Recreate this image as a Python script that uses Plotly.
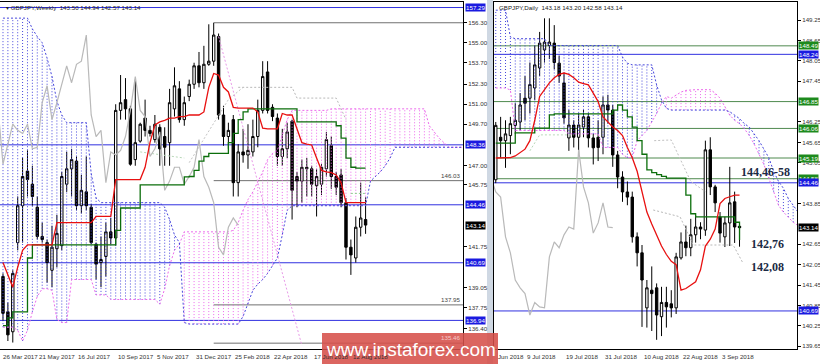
import numpy as np
import plotly.graph_objects as go

# ====================== WEEKLY PANEL (left) ======================
w_open = [139.8, 137.5, 136.2, 142.0, 144.4, 146.65, 145.8, 144.3, 142.4, 142.0,
          140.2, 141.6, 141.8, 145.8, 146.8, 147.3, 144.4, 145.3, 144.3, 141.9,
          140.7, 141.1, 142.7, 142.3, 150.6, 151.3, 150.7, 147.4, 148.6, 150.1,
          149.3, 148.7, 149.5, 148.9, 148.5, 150.7, 152.0, 150.0, 151.5, 152.3,
          153.5, 152.4, 153.6, 153.8, 155.4, 150.3, 148.9, 150.0, 145.9, 147.9,
          147.7, 147.9, 148.9, 150.6, 153.1, 150.8, 150.1, 147.6, 148.1, 149.9,
          146.3, 146.0, 146.8, 146.8, 145.7, 145.8, 146.8, 148.3, 146.3, 146.4,
          144.6, 141.7, 141.0, 143.0, 143.50]
w_high = [140.0, 138.1, 140.2, 145.0, 147.5, 148.0, 147.0, 145.0, 143.3, 142.2,
          143.1, 143.8, 146.6, 147.9, 148.1, 147.6, 146.4, 147.6, 144.5, 142.0,
          142.4, 143.3, 143.6, 151.0, 152.9, 152.7, 150.9, 152.6, 149.8, 151.3,
          149.6, 150.3, 149.7, 149.5, 152.0, 153.4, 152.5, 151.5, 152.6, 153.7,
          154.4, 154.8, 156.2, 156.3, 155.6, 150.9, 149.8, 150.3, 148.4, 149.4,
          149.7, 150.0, 151.3, 153.8, 153.8, 151.0, 150.4, 149.4, 149.8, 150.0,
          146.6, 147.4, 147.5, 147.0, 146.8, 147.1, 149.2, 148.9, 146.6, 146.8,
          144.9, 142.2, 143.7, 145.9, 144.94]
w_low = [136.9, 135.6, 135.5, 141.5, 142.0, 145.0, 144.4, 142.2, 142.0, 139.4,
         139.1, 140.4, 141.5, 145.3, 145.0, 144.1, 143.9, 144.1, 141.9, 139.6,
         139.1, 139.8, 141.9, 141.8, 150.0, 150.0, 147.0, 147.0, 148.5, 148.9,
         148.9, 148.5, 147.0, 147.0, 147.0, 150.2, 149.8, 149.6, 151.2, 152.0,
         152.1, 152.0, 153.5, 153.5, 150.0, 148.3, 148.1, 145.0, 145.0, 147.2,
         146.8, 147.6, 148.2, 150.4, 150.4, 149.9, 147.0, 147.0, 147.5, 143.5,
         144.3, 144.6, 145.0, 145.0, 143.7, 145.1, 146.3, 145.5, 145.1, 144.3,
         140.9, 139.9, 140.7, 142.4, 142.57]
w_close = [137.4, 136.0, 140.0, 144.4, 146.3, 146.1, 145.0, 142.4, 142.2, 140.7,
           141.7, 142.6, 146.3, 146.8, 147.4, 144.4, 145.4, 144.4, 142.0, 140.6,
           140.9, 142.7, 142.3, 150.6, 151.1, 150.7, 147.1, 148.5, 149.7, 149.3,
           149.1, 149.7, 148.1, 148.2, 151.1, 152.2, 150.0, 151.1, 152.3, 153.5,
           152.4, 153.6, 153.8, 155.5, 150.3, 148.9, 149.3, 145.9, 147.9, 147.7,
           148.0, 148.9, 150.6, 152.8, 150.6, 150.2, 147.6, 148.1, 149.2, 145.4,
           146.0, 146.9, 146.9, 145.8, 146.3, 146.9, 148.7, 146.3, 145.6, 144.6,
           141.7, 141.2, 143.0, 143.6, 143.14]
w_tenkan = [140.7, 139.9, 139.1, 140.4, 141.5, 141.85, 141.85, 141.85, 141.85, 141.85,
            141.85, 143.3, 143.3, 143.3, 143.3, 143.3, 143.3, 143.3, 143.3, 143.7,
            143.7, 143.7, 143.7, 146.1, 146.1, 146.1, 146.1, 146.1, 146.1, 146.9,
            148.5, 149.65, 149.85, 149.95, 150.1, 150.1, 150.2, 150.2, 150.3, 150.3,
            150.3, 150.5, 152.1, 153.0, 152.9, 152.1, 151.8, 150.8, 150.75, 150.75,
            150.75, 150.75, 150.5, 149.45, 149.4, 149.4, 149.4, 150.4, 150.3, 150.3,
            149.45, 148.5, 148.4, 148.35, 147.5, 146.7, 146.6, 146.55, 146.4, 145.9,
            144.6, 144.6, 144.6, 144.6, 144.6]
w_kijun = [136.6, 137.1, 137.5, 137.5, 137.5, 141.0, 141.85, 141.85, 141.85, 141.85,
           141.85, 141.85, 141.85, 141.85, 141.85, 141.85, 141.85, 141.85, 141.85, 141.85,
           141.85, 141.85, 141.85, 142.8, 144.25, 144.25, 144.25, 144.25, 145.75, 145.75,
           145.75, 145.75, 145.75, 145.75, 145.75, 145.75, 145.75, 146.27, 146.3, 146.7,
           147.3, 147.6, 147.8, 147.8, 147.8, 147.8, 148.5, 149.1, 150.0, 150.5,
           150.7, 150.7, 150.7, 150.7, 150.7, 150.7, 150.7, 150.7, 150.7, 150.7,
           149.85, 149.85, 149.85, 149.85, 149.85, 149.85, 149.85, 149.85, 149.6, 148.8,
           147.5, 146.9, 146.85, 146.85, 146.85]
w_span_a = [156.6, 156.6, 156.6, 156.6, 156.6, 156.6, 155.9, 155.4, 155.0, 154.0,
            152.8, 151.2, 150.3, 149.8, 149.8, 149.8, 149.8, 149.8, 146.5, 144.9,
            144.6, 144.6, 144.6, 144.6, 144.6, 144.6, 144.6, 144.6, 144.6, 144.6,
            144.6, 144.6, 144.6, 144.3, 143.5, 142.5, 142.0, 136.8, 136.7, 136.7,
            136.7, 136.7, 136.7, 136.7, 136.7, 136.7, 136.7, 136.7, 136.7, 137.2,
            138.0, 138.9, 139.3, 139.6, 140.0, 140.5, 141.0, 142.5, 144.1, 144.4,
            144.4, 144.4, 144.4, 144.4, 144.4, 144.4, 144.4, 144.4, 144.4, 144.4,
            144.4, 144.4, 144.4, 144.4, 144.4, 146.0, 146.3, 146.6, 147.0, 147.5,
            148.2, 148.2, 148.2, 148.2, 148.2, 148.2, 148.2, 148.2, 148.2, 148.2,
            148.2, 148.2, 148.2, 148.2, 148.2, 148.2]
w_span_b = [136.5, 136.5, 136.5, 136.3, 135.6, 136.3, 137.5, 138.5, 139.0, 139.0,
            138.9, 137.0, 136.8, 136.8, 139.6, 139.6, 139.6, 139.6, 139.6, 138.6,
            138.6, 138.6, 138.3, 138.3, 138.3, 138.3, 138.3, 138.3, 138.3, 138.3,
            138.3, 138.3, 138.0, 139.0, 140.5, 141.5, 141.9, 142.7, 142.7, 142.7,
            142.7, 142.7, 142.7, 142.7, 142.7, 142.7, 142.7, 142.8, 143.3, 144.1,
            144.8, 145.3, 145.9, 146.6, 147.4, 147.8, 148.0, 149.0, 150.0, 150.6,
            150.6, 150.6, 150.6, 150.6, 150.6, 150.6, 150.6, 150.7, 150.7, 150.7,
            150.7, 150.7, 150.7, 150.7, 150.7, 150.7, 150.7, 150.7, 150.7, 150.7,
            150.7, 150.7, 150.7, 150.7, 150.7, 150.7, 150.7, 149.6, 149.2, 148.8,
            148.5, 148.2, 148.2, 148.2, 148.2, 148.2]
w_label_idx = [-1, 7, 15, 23, 31, 39, 47, 55, 63, 71]
w_label_text = ["26 Mar 2017", "21 May 2017", "16 Jul 2017", "10 Sep 2017", "5 Nov 2017",
                "31 Dec 2017", "25 Feb 2018", "22 Apr 2018", "17 Jun 2018", "12 Aug 2018"]
w_price_ticks = [156.30, 155.00, 153.70, 152.30, 151.00, 149.70, 147.00, 145.75,
                 141.75, 139.05, 137.75, 136.40]
w_blue_levels = [157.29, 148.36, 144.46, 140.69, 136.94]
w_gray_levels = [156.30, 146.03, 137.95, 135.46]
w_gray_level_text = ["", "146.03", "137.95", "135.46"]
w_gray_start = 43
w_boxes = [(157.29, "blue"), (148.36, "blue"), (144.46, "blue"),
           (143.14, "black"), (140.69, "blue"), (136.94, "blue")]
w_trend_x = [44, 61]
w_trend_y = [155.4, 135.3]
w_faint1_x = [48, 59, 60, 68, 70]
w_faint1_y = [152.1, 152.1, 151.4, 151.4, 150.0]
w_faint2_x = [38, 46, 49]
w_faint2_y = [147.2, 151.3, 152.1]
w_faint3_x = [28, 37]
w_faint3_y = [147.9, 147.5]
w_faint4_x = [71, 74]
w_faint4_y = [145.2, 145.2]

# ====================== DAILY PANEL (right) ======================
d_first = -6
d_open = [144.55, 145.8, 145.7, 145.85, 146.15, 146.25, 146.95, 146.95, 147.25, 147.84,
          148.37, 148.5, 148.57, 147.98, 147.4, 145.78, 146.16, 145.8, 146.1, 146.4,
          145.78, 145.8, 145.8, 146.75, 146.6, 145.28, 144.63, 144.19, 144.04, 142.87,
          142.4, 140.78, 141.3, 141.37, 140.52, 140.94, 140.9, 140.78, 142.25, 142.72,
          142.55, 142.93, 143.16, 143.07, 145.43, 144.34, 143.45, 142.87, 143.28, 143.9,
          143.18]
d_high = [146.25, 146.4, 146.3, 146.4, 146.8, 147.1, 147.6, 148.0, 148.5, 148.9,
          149.3, 149.3, 149.1, 148.2, 147.7, 146.6, 146.3, 146.5, 146.6, 146.5,
          145.9, 146.3, 147.0, 147.05, 146.75, 145.4, 144.8, 144.5, 144.2, 143.0,
          142.63, 141.6, 142.0, 141.5, 141.4, 141.4, 141.3, 142.4, 143.0, 143.2,
          143.4, 143.5, 143.3, 145.7, 145.8, 144.4, 143.6, 143.46, 144.93, 144.2,
          143.20]
d_low = [144.45, 145.2, 144.9, 145.3, 145.9, 146.0, 146.3, 146.5, 146.9, 147.6,
         148.0, 148.1, 147.8, 147.4, 146.2, 145.4, 145.5, 145.3, 145.8, 145.5,
         145.0, 145.1, 145.3, 146.2, 144.93, 144.3, 143.9, 143.8, 142.7, 142.0,
         140.22, 140.2, 140.1, 139.84, 139.95, 140.2, 140.5, 140.6, 142.2, 142.3,
         142.3, 142.7, 142.8, 142.9, 144.1, 143.6, 142.7, 142.57, 142.6, 142.69,
         142.58]
d_close = [146.15, 145.7, 145.9, 146.2, 146.3, 146.75, 146.8, 147.35, 147.93, 148.57,
           148.6, 148.6, 148.0, 147.6, 146.37, 146.16, 145.8, 146.16, 146.4, 145.78,
           145.49, 145.5, 146.75, 146.6, 145.28, 144.63, 144.19, 144.04, 142.87, 142.4,
           141.6, 141.37, 141.2, 140.57, 140.94, 140.81, 140.78, 142.28, 142.72, 142.55,
           142.93, 143.16, 143.1, 145.43, 144.34, 143.87, 142.98, 143.28, 143.87, 143.16,
           143.14]
d_tenkan = [145.19, 145.19, 145.19, 145.2, 145.25, 145.35, 145.45, 145.7, 146.3, 147.0,
            147.2, 147.4, 147.55, 147.65, 147.69, 147.65, 147.55, 147.42, 147.38, 147.34,
            147.1, 146.85, 146.4, 146.25, 146.1, 146.0, 145.85, 145.5, 145.2, 144.8,
            144.2, 143.6, 143.25, 142.9, 142.6, 142.35, 142.15, 142.05, 141.3, 141.35,
            141.45, 141.55, 141.9, 142.6, 142.8, 143.1, 143.85, 144.0, 144.05, 144.1,
            144.1]
d_kijun = [145.63, 145.63, 145.63, 145.63, 145.93, 145.93, 145.93, 145.93, 146.07, 146.07,
           146.07, 146.46, 146.49, 146.49, 146.49, 146.49, 146.49, 146.49, 146.49, 146.49,
           146.49, 146.49, 146.49, 146.49, 146.6, 146.75, 146.6, 146.4, 146.1, 145.7,
           145.3, 144.84, 144.76, 144.7, 144.65, 144.6, 144.6, 144.6, 144.6, 144.1,
           143.55, 143.46, 143.46, 143.46, 143.46, 143.46, 143.46, 143.46, 143.46, 143.3,
           142.78]
d_span_a = [149.54, 149.54, 149.54, 148.75, 148.7, 148.7, 148.7, 148.7, 148.7, 148.7,
            148.7, 148.5, 148.5, 148.5, 148.5, 148.5, 148.5, 148.5, 148.5, 148.5,
            148.5, 148.5, 148.5, 148.5, 148.5, 148.5, 148.16, 147.98, 147.93, 147.93,
            147.93, 147.93, 147.93, 147.34, 146.9, 146.65, 146.6, 146.6, 146.6, 146.6,
            146.6, 146.6, 146.6, 146.6, 146.6, 146.6, 146.6, 146.6, 146.55, 146.45,
            146.35, 146.2, 146.1, 145.9, 145.7, 145.45, 145.2, 144.8, 144.5, 144.3,
            144.0, 143.8, 143.6]
d_span_b = [147.25, 147.25, 147.25, 147.19, 146.0, 146.0, 146.0, 146.0, 146.0, 146.0,
            146.0, 146.0, 146.0, 146.0, 146.0, 145.9, 145.9, 145.9, 145.9, 145.9,
            145.9, 145.9, 145.5, 145.5, 145.5, 145.5, 145.3, 145.2, 145.2, 145.7,
            145.85, 146.0, 146.25, 146.5, 146.8, 147.0, 146.95, 147.05, 147.13, 147.18,
            147.2, 147.2, 147.2, 147.2, 147.2, 147.1, 146.95, 146.7, 146.45, 146.3,
            146.2, 146.05, 145.85, 145.6, 145.3, 145.0, 144.6, 144.2, 143.8, 143.6,
            143.45, 143.3, 143.2]
d_label_idx = [0, 8, 16, 24, 32, 40]
d_label_text = ["9 Jul 2018", "19 Jul 2018", "31 Jul 2018", "10 Aug 2018",
                "22 Aug 2018", "3 Sep 2018"]
d_price_ticks = [149.25, 148.65, 148.05, 147.45, 146.25, 145.65, 145.05, 143.85,
                 142.65, 142.05, 141.45, 140.85, 140.25, 139.65]
d_blue_levels = [148.24, 144.46, 140.69]
d_green_levels = [148.49, 146.85, 146.06, 145.19, 144.58]
d_boxes = [(148.49, "green"), (148.24, "blue"), (146.85, "green"), (146.06, "green"),
           (145.19, "green"), (144.58, "green"), (144.46, "blue"), (143.14, "black"),
           (140.69, "blue")]
d_faint1_x = [26.5, 30, 34, 37]
d_faint1_y = [145.7, 145.72, 144.5, 144.2]
d_faint2_x = [26.3, 31.8, 34.5, 42.7, 44.7]
d_faint2_y = [143.66, 143.46, 142.63, 142.63, 142.1]
d_faint3_x = [1, 3, 10]
d_faint3_y = [145.4, 145.87, 145.87]
d_notes = [("144,46-58", 765, 172), ("142,76", 767, 244), ("142,08", 767, 267)]

# ====================== figure ======================
W, H = 820, 364
TOP, BOT = 2, 349
LABEL_Y = 356
BLUE_DOT = "#4646dc"
PINK_DOT = "#ec6aec"
BOX_COL = {"blue": "#1a1ae0", "black": "#000000", "green": "#1d8a1d"}
FONT = "Liberation Sans"
SMALL = 6.2

fig = go.Figure()


def cloud(xs, a, b, bullish):
    X, Y = [], []
    for x, ya, yb in zip(xs, a, b):
        if ya == yb:
            continue
        if (ya > yb) == bullish:
            X += [x, x, None]
            Y += [min(ya, yb), max(ya, yb), None]
    return X, Y


def add_panel(xa, ya, xs, o, h, l, c, tenkan, kijun, span_a, span_b, faint):
    sx = list(range(xs[0], xs[0] + len(span_a)))
    for bull, col in ((True, BLUE_DOT), (False, PINK_DOT)):
        X, Y = cloud(sx, span_a, span_b, bull)
        fig.add_trace(go.Scatter(x=X, y=Y, mode="lines", xaxis=xa, yaxis=ya,
                                 line=dict(color=col, width=1, dash="1px,2px"),
                                 hoverinfo="skip", connectgaps=False))
    fig.add_trace(go.Scatter(x=sx, y=span_b, mode="lines", xaxis=xa, yaxis=ya,
                             line=dict(color=PINK_DOT, width=1, dash="2px,2px"), hoverinfo="skip"))
    fig.add_trace(go.Scatter(x=sx, y=span_a, mode="lines", xaxis=xa, yaxis=ya,
                             line=dict(color=BLUE_DOT, width=1, dash="2px,2px"), hoverinfo="skip"))
    for fx, fy, fc in faint:
        fig.add_trace(go.Scatter(x=fx, y=fy, mode="lines", xaxis=xa, yaxis=ya,
                                 line=dict(color=fc, width=1, dash="2px,2px"), hoverinfo="skip"))
    # chikou: closes plotted 26 bars back
    fig.add_trace(go.Scatter(x=[v - 26 for v in xs], y=c, mode="lines", xaxis=xa, yaxis=ya,
                             line=dict(color="#b9b9b9", width=1.2), hoverinfo="skip"))
    fig.add_trace(go.Candlestick(x=xs, open=o, high=h, low=l, close=c, xaxis=xa, yaxis=ya,
                                 whiskerwidth=0,
                                 increasing=dict(line=dict(color="black", width=1), fillcolor="white"),
                                 decreasing=dict(line=dict(color="black", width=1), fillcolor="black"),
                                 hoverinfo="skip"))
    fig.add_trace(go.Scatter(x=xs, y=kijun, mode="lines", xaxis=xa, yaxis=ya,
                             line=dict(color="#0b6e0b", width=1.3, shape="hv"), hoverinfo="skip"))
    fig.add_trace(go.Scatter(x=xs, y=tenkan, mode="lines", xaxis=xa, yaxis=ya,
                             line=dict(color="#e81010", width=1.3), hoverinfo="skip"))


w_x = list(range(len(w_open)))
d_x = list(range(d_first, d_first + len(d_open)))

add_panel("x", "y", w_x, w_open, w_high, w_low, w_close, w_tenkan, w_kijun, w_span_a, w_span_b,
          [(w_trend_x, w_trend_y, "#e89ae8"), (w_faint1_x, w_faint1_y, "#b8b8b8"),
           (w_faint2_x, w_faint2_y, "#c4c4c4"), (w_faint3_x, w_faint3_y, "#b8d8b8"),
           (w_faint4_x, w_faint4_y, "#8fcf8f")])
add_panel("x2", "y2", d_x, d_open, d_high, d_low, d_close, d_tenkan, d_kijun, d_span_a, d_span_b,
          [(d_faint1_x, d_faint1_y, "#c0c0c0"), (d_faint2_x, d_faint2_y, "#b8b8b8"),
           (d_faint3_x, d_faint3_y, "#b8d8b8")])

shapes = []
for lv in w_blue_levels:
    shapes.append(dict(type="line", xref="x domain", yref="y", x0=0, x1=1, y0=lv, y1=lv,
                       line=dict(color="#3030e0", width=1), layer="below"))
for lv in w_gray_levels:
    shapes.append(dict(type="line", xref="x", yref="y", x0=w_gray_start, x1=200, y0=lv, y1=lv,
                       line=dict(color="#707070", width=1), layer="below"))
for lv in d_blue_levels:
    shapes.append(dict(type="line", xref="x2 domain", yref="y2", x0=0, x1=1, y0=lv, y1=lv,
                       line=dict(color="#3030e0", width=1), layer="below"))
for lv in d_green_levels:
    shapes.append(dict(type="line", xref="x2 domain", yref="y2", x0=0, x1=1, y0=lv, y1=lv,
                       line=dict(color="#4f8a4f", width=1), layer="below"))
# window separator
shapes.append(dict(type="rect", xref="paper", yref="paper", x0=487 / W, x1=493 / W, y0=0, y1=1,
                   fillcolor="#cfd8e3", line=dict(width=0), layer="below"))
# watermark box
shapes.append(dict(type="rect", xref="paper", yref="paper", x0=322 / W, x1=498 / W,
                   y0=0, y1=(H - 333) / H, fillcolor="rgba(214,80,74,0.88)",
                   line=dict(width=0), layer="above"))

ann = []
for lv, col in w_boxes:
    ann.append(dict(xref="paper", yref="y", x=465 / W, y=lv, xanchor="left", yanchor="middle",
                    text=f"{lv:.2f}", showarrow=False, bgcolor=BOX_COL[col], borderpad=0,
                    font=dict(family=FONT, size=SMALL, color="white")))
for lv, col in d_boxes:
    ann.append(dict(xref="paper", yref="y2", x=798 / W, y=lv, xanchor="left", yanchor="middle",
                    text=f"{lv:.2f}", showarrow=False, bgcolor=BOX_COL[col], borderpad=0,
                    font=dict(family=FONT, size=SMALL, color="white")))
for lv, t in zip(w_gray_levels, w_gray_level_text):
    if t:
        faint = lv < 136
        ann.append(dict(xref="paper", yref="y", x=462 / W, y=lv, xanchor="right", yanchor="bottom",
                        text=t, showarrow=False,
                        font=dict(family=FONT, size=SMALL,
                                  color="rgba(255,235,235,0.75)" if faint else "#444")))
# date labels (text starts at the bar it names, MT4 style)
for idx, t in zip(w_label_idx, w_label_text):
    ann.append(dict(xref="x", yref="paper", x=max(idx, -0.5), y=(H - LABEL_Y) / H,
                    xanchor="left", yanchor="middle", text=t, showarrow=False,
                    font=dict(family=FONT, size=SMALL, color="#333")))
for idx, t in zip(d_label_idx, d_label_text):
    ann.append(dict(xref="x2", yref="paper", x=idx, y=(H - LABEL_Y) / H,
                    xanchor="left", yanchor="middle", text=t, showarrow=False,
                    font=dict(family=FONT, size=SMALL, color="#333")))
ann.append(dict(xref="paper", yref="paper", x=496 / W, y=(H - LABEL_Y) / H, xanchor="left",
                yanchor="middle", text="Jun 2018", showarrow=False,
                font=dict(family=FONT, size=SMALL, color="#333")))
ann.append(dict(xref="paper", yref="paper", x=4 / W, y=1 - 7 / H, xanchor="left", yanchor="middle",
                text="▾ GBPJPY,Weekly  143.50 144.94 142.57 143.14", showarrow=False,
                font=dict(family=FONT, size=SMALL, color="#222")))
ann.append(dict(xref="paper", yref="paper", x=497 / W, y=1 - 7 / H, xanchor="left", yanchor="middle",
                text="GBPJPY,Daily  143.18 143.20 142.58 143.14", showarrow=False,
                font=dict(family=FONT, size=SMALL, color="#222")))
for t, px, py in d_notes:
    ann.append(dict(xref="paper", yref="paper", x=px / W, y=1 - py / H, xanchor="center",
                    yanchor="middle", text=f"<b>{t}</b>", showarrow=False,
                    font=dict(family="Liberation Serif", size=12, color="#1b2a44")))
ann.append(dict(xref="paper", yref="paper", x=411 / W, y=(H - 349) / H, xanchor="center",
                yanchor="middle", text="www.instaforex.com", showarrow=False,
                font=dict(family=FONT, size=19, color="white")))

ydom = [(H - BOT) / H, (H - TOP) / H]
axis_common = dict(showgrid=False, zeroline=False, showline=True, mirror=True,
                   linecolor="black", linewidth=1, fixedrange=True)
fig.update_layout(
    width=W, height=H, margin=dict(l=0, r=0, t=0, b=0),
    paper_bgcolor="white", plot_bgcolor="white", showlegend=False, hovermode=False,
    shapes=shapes, annotations=ann,
    xaxis=dict(domain=[0, 463 / W], range=[-0.61, 93.88], anchor="y",
               showticklabels=False, ticks="", automargin=False,
               rangeslider=dict(visible=False), **axis_common),
    yaxis=dict(domain=ydom, range=[135.08, 157.65], anchor="x", side="right",
               tickvals=w_price_ticks, ticktext=[f"{v:.2f}" for v in w_price_ticks],
               ticks="outside", ticklen=3, tickcolor="black", automargin=False,
               tickfont=dict(family=FONT, size=SMALL, color="#333"), **axis_common),
    xaxis2=dict(domain=[494 / W, 797 / W], range=[-6.36, 55.79], anchor="y2",
                showticklabels=False, ticks="", automargin=False,
                rangeslider=dict(visible=False), **axis_common),
    yaxis2=dict(domain=ydom, range=[139.57, 149.78], anchor="x2", side="right",
                tickvals=d_price_ticks, ticktext=[f"{v:.2f}" for v in d_price_ticks],
                ticks="outside", ticklen=3, tickcolor="black", automargin=False,
                tickfont=dict(family=FONT, size=SMALL, color="#333"), **axis_common),
)

fig.write_html("out.html")
